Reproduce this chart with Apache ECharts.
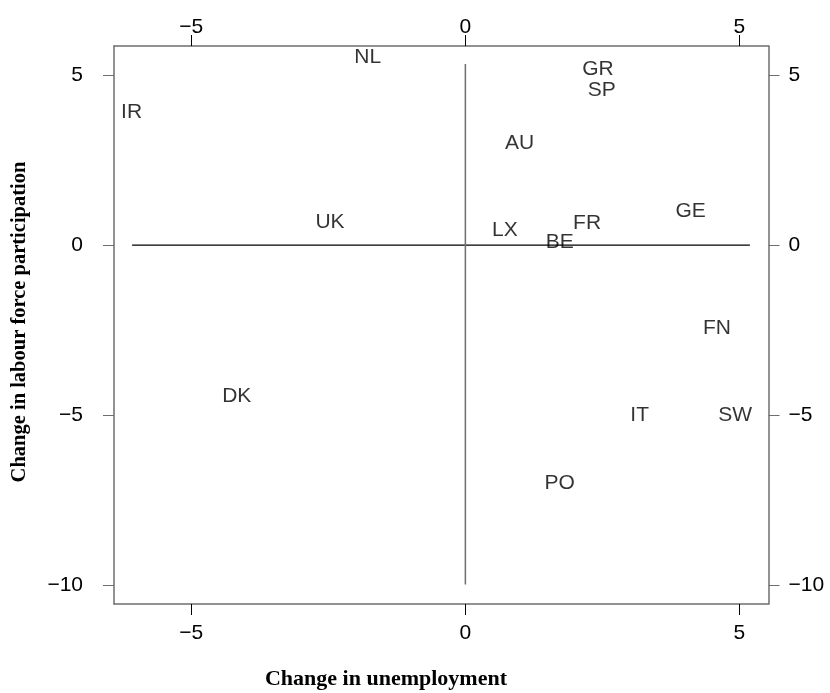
<!DOCTYPE html>
<html>
<head>
<meta charset="utf-8">
<script src="https://cdn.jsdelivr.net/npm/echarts@6/dist/echarts.min.js"></script>
<style>html,body{margin:0;padding:0;background:#fff}#c{width:830px;height:693px}</style>
</head>
<body>
<div id="c"></div>
<script>
// Data
var countries = ['NL','IR','GR','SP','AU','GE','UK','LX','FR','BE','FN','DK','IT','SW','PO'];
var unemploymentChange = [-1.78,-6.09,2.42,2.49,0.99,4.11,-2.47,0.72,2.22,1.72,4.59,-4.17,3.18,4.92,1.72];
var participationChange = [5.52,3.9,5.17,4.55,2.99,0.99,0.67,0.43,0.64,0.08,-2.45,-4.45,-5.0,-5.0,-6.98];
var xTicks = [-5,0,5];
var yTicks = [-10,-5,0,5];
var hLine = [[-6.08,0],[5.19,0]];
var vLine = [[0,5.32],[0,-9.97]];

var pts = countries.map(function(n,i){return [unemploymentChange[i], participationChange[i], n];});
function fmt(v){ return v<0 ? '\u2212'+Math.abs(v) : String(v); }
var axisCol = '#6e6e6e';
var lblFont = {fontFamily:'Liberation Sans', fontSize:21, color:'#000'};

function xAxis(pos, margin){
  return {type:'value', position:pos, min:-6.41, max:5.53, splitLine:{show:false},
    axisLine:{show:true, onZero:false, lineStyle:{color:axisCol, width:1.5}},
    axisTick:{show:true, inside:false, length:11, customValues:xTicks, lineStyle:{color:'#000', width:1}},
    axisLabel:Object.assign({show:true, margin:margin, customValues:xTicks, formatter:fmt}, lblFont)};
}
function yAxis(pos, margin){
  return {type:'value', position:pos, min:-10.54, max:5.85, splitLine:{show:false},
    axisLine:{show:true, onZero:false, lineStyle:{color:axisCol, width:1.5}},
    axisTick:{show:true, inside:false, length:11, customValues:yTicks, lineStyle:{color:axisCol, width:1}},
    axisLabel:Object.assign({show:true, margin:margin, customValues:yTicks, formatter:fmt, padding:[8,0,0,0]}, lblFont)};
}

var chart = echarts.init(document.getElementById('c'), null, {renderer:'canvas'});
chart.setOption({
  animation:false,
  backgroundColor:'#fff',
  grid:{left:114, right:61.5, top:46, bottom:89},
  xAxis:[xAxis('bottom',19), xAxis('top',8)],
  yAxis:[yAxis('left',31), yAxis('right',20)],
  series:[
    {type:'line', data:hLine, xAxisIndex:0, yAxisIndex:0, symbol:'none', lineStyle:{color:'#000', width:1.2}},
    {type:'line', data:vLine, xAxisIndex:0, yAxisIndex:0, symbol:'none', lineStyle:{color:'#6e6e6e', width:1.5}},
    {type:'scatter', data:pts, xAxisIndex:0, yAxisIndex:0, symbolSize:0,
      label:{show:true, position:'inside', formatter:function(p){return p.data[2];},
        fontFamily:'Liberation Sans', fontSize:21, color:'#000'}}
  ],
  graphic:[
    {type:'text', x:386, y:679, style:{text:'Change in unemployment', x:0, y:0, align:'center', verticalAlign:'middle',
      font:'bold 22px "Liberation Serif"', fill:'#000'}},
    {type:'text', x:20, y:322, rotation:Math.PI/2, style:{text:'Change in labour force participation', x:0, y:0, align:'center', verticalAlign:'middle',
      font:'bold 20.5px "Liberation Serif"', fill:'#000'}}
  ]
});
</script>
</body>
</html>
